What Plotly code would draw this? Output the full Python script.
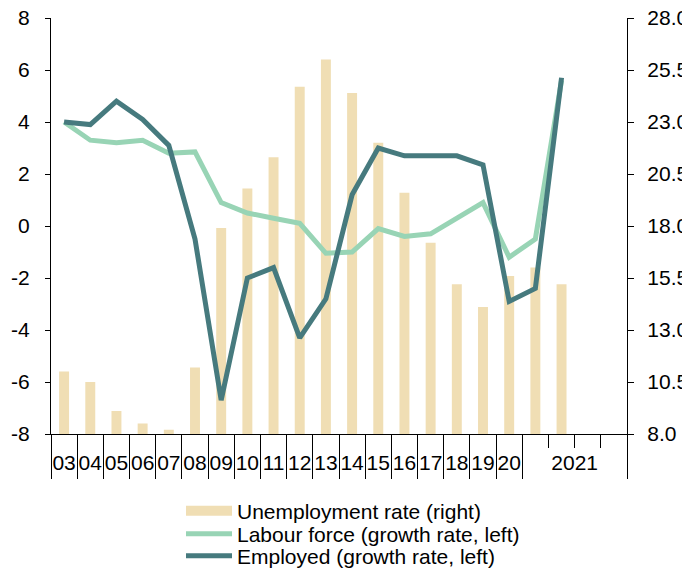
import plotly.graph_objects as go

# categories: 2003-2020 annual, then 2021 by quarter
categories = ["03", "04", "05", "06", "07", "08", "09", "10", "11", "12",
              "13", "14", "15", "16", "17", "18", "19", "20",
              "2021Q1", "2021Q2", "2021Q3", "2021Q4"]
tick_labels = ["03", "04", "05", "06", "07", "08", "09", "10", "11", "12",
               "13", "14", "15", "16", "17", "18", "19", "20", "2021"]

unemployment = [11.0, 10.5, 9.1, 8.5, 8.2, 11.2, 17.9, 19.8, 21.3, 24.7,
                26.0, 24.4, 22.0, 19.6, 17.2, 15.2, 14.1, 15.6, 16.0, 15.2,
                None, None]
labour_force = [4.0, 3.3, 3.2, 3.3, 2.8, 2.85, 0.9, 0.5, 0.3, 0.1,
                -1.05, -1.0, -0.1, -0.4, -0.3, 0.3, 0.9, -1.2, -0.5, 5.6,
                None, None]
employed = [4.0, 3.9, 4.8, 4.1, 3.1, -0.5, -6.7, -2.0, -1.6, -4.3,
            -2.8, 1.2, 3.0, 2.7, 2.7, 2.7, 2.35, -2.9, -2.4, 5.7,
            None, None]

left_ticks = [-8, -6, -4, -2, 0, 2, 4, 6, 8]

BAR_C = "#F0DEB4"
LF_C = "#98D4B5"
EMP_C = "#467A7E"

n = len(categories)
# long ticks at year boundaries, short ones between quarters
long_ticks = [i - 0.5 for i in range(19)] + [n - 0.5]
label_pos = list(range(18)) + [19.5]

font = dict(family="Liberation Sans, Arial", size=21, color="black")

fig = go.Figure()

fig.add_trace(go.Bar(
    x=categories, y=unemployment, yaxis="y", xaxis="x",
    marker=dict(color=BAR_C, line=dict(width=0)),
    name="Unemployment rate (right)", showlegend=False
))
fig.add_trace(go.Scatter(
    x=categories, y=labour_force, yaxis="y2", xaxis="x",
    mode="lines", line=dict(color=LF_C, width=5),
    name="Labour force (growth rate, left)", legend="legend2"
))
fig.add_trace(go.Scatter(
    x=categories, y=employed, yaxis="y2", xaxis="x",
    mode="lines", line=dict(color=EMP_C, width=5),
    name="Employed (growth rate, left)", legend="legend3"
))
# legend swatch for the bars (wide rectangle like the original)
fig.add_trace(go.Scatter(
    x=[None], y=[None], yaxis="y", xaxis="x",
    mode="lines", line=dict(color=BAR_C, width=12),
    name="Unemployment rate (right)", legend="legend"
))
# empty traces so the helper axes get drawn
fig.add_trace(go.Scatter(x=[], y=[], xaxis="x2", yaxis="y2",
                         showlegend=False, hoverinfo="skip"))
fig.add_trace(go.Scatter(x=[], y=[], xaxis="x3", yaxis="y2",
                         showlegend=False, hoverinfo="skip"))

leg = dict(x=0.2257, xanchor="left", yanchor="middle", font=font,
           itemwidth=46, bgcolor="rgba(0,0,0,0)")

# page body has an 8px margin, so the figure is a bit smaller than the window
# (otherwise a scrollbar shows up and eats the right axis labels)
fig.update_layout(
    width=682, height=563,
    margin=dict(l=43, r=63, t=10, b=137, autoexpand=False),
    plot_bgcolor="white", paper_bgcolor="white",
    font=font,
    bargap=0.62,
    showlegend=True,
    legend=dict(leg, y=-0.1851),
    legend2=dict(leg, y=-0.2404),
    legend3=dict(leg, y=-0.2933),
    xaxis=dict(type="category", range=[-0.5, n - 0.5],
               showticklabels=False, ticks="outside", tickson="boundaries",
               ticklen=13, tickcolor="black", tickwidth=1.3,
               showline=True, linecolor="black", linewidth=1.3,
               showgrid=False, zeroline=False, automargin=False),
    xaxis2=dict(overlaying="x", range=[-0.5, n - 0.5],
                tickmode="array", tickvals=long_ticks,
                showticklabels=False, ticks="outside", ticklen=44,
                tickcolor="black", tickwidth=1.3,
                showline=False, showgrid=False, zeroline=False,
                automargin=False),
    xaxis3=dict(overlaying="x", range=[-0.5, n - 0.5],
                tickmode="array", tickvals=label_pos, ticktext=tick_labels,
                ticks="", ticklabelstandoff=14, tickfont=font,
                showline=False, showgrid=False, zeroline=False,
                automargin=False),
    yaxis=dict(side="right", range=[8, 28], tickmode="linear",
               tick0=8, dtick=2.5, tickformat=".1f",
               ticks="outside", ticklen=6, tickcolor="black", tickwidth=1.3,
               ticklabelstandoff=9, ticklabeloverflow="allow",
               showline=True, linecolor="black", linewidth=1.3,
               showgrid=False, zeroline=False, tickfont=font,
               automargin=False),
    yaxis2=dict(overlaying="y", side="left", range=[-8, 8],
                tickmode="array", tickvals=left_ticks,
                ticktext=[str(v) for v in left_ticks],
                ticks="outside", ticklen=5, tickcolor="black", tickwidth=1.3,
                ticklabelstandoff=11, ticklabeloverflow="allow",
                showline=True, linecolor="black", linewidth=1.3,
                showgrid=False, zeroline=False, tickfont=font,
                automargin=False),
)

fig.write_html("out.html")
